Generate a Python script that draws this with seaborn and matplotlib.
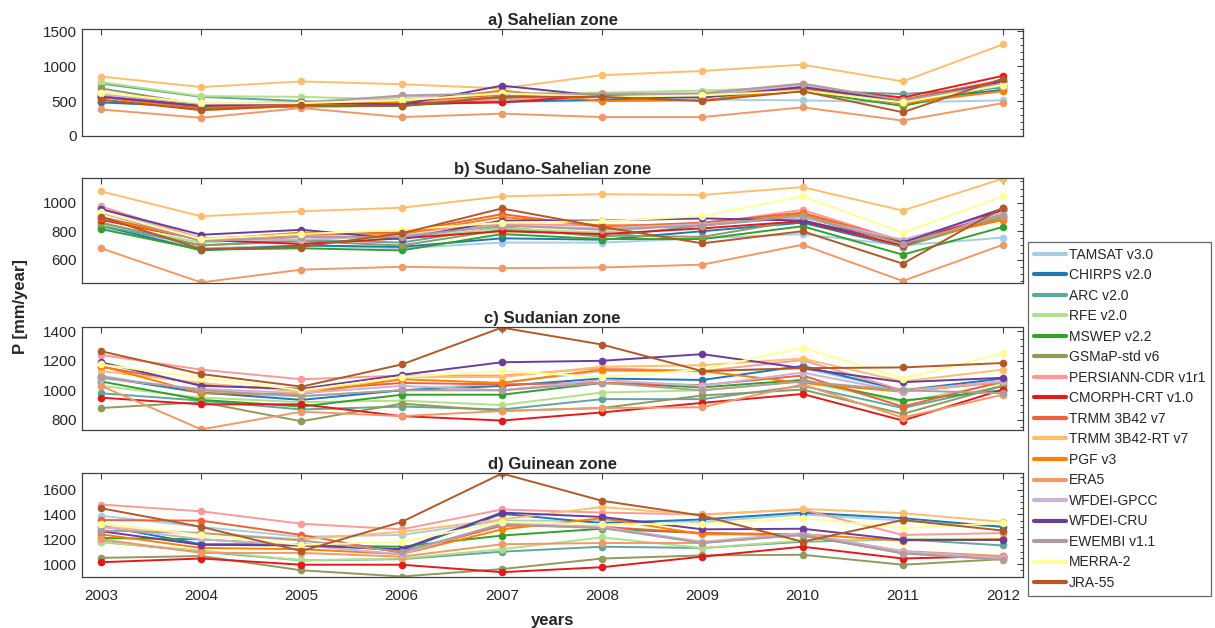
"""Annual precipitation per product over four climatic zones, 2003-2012."""

import matplotlib

matplotlib.use("Agg")
import matplotlib.pyplot as plt
import numpy as np
import pandas as pd
import seaborn as sns
from matplotlib.lines import Line2D
from matplotlib.ticker import MultipleLocator

YEARS = list(range(2003, 2013))

PRODUCTS = [
    "TAMSAT v3.0", "CHIRPS v2.0", "ARC v2.0", "RFE v2.0", "MSWEP v2.2",
    "GSMaP-std v6", "PERSIANN-CDR v1r1", "CMORPH-CRT v1.0", "TRMM 3B42 v7",
    "TRMM 3B42-RT v7", "PGF v3", "ERA5", "WFDEI-GPCC", "WFDEI-CRU",
    "EWEMBI v1.1", "MERRA-2", "JRA-55",
]

COLORS = [
    "#a6cee3", "#1f78b4", "#62a59c", "#b2df8a", "#33a02c",
    "#8f9b5c", "#fb9a99", "#e31a1c", "#f0603c",
    "#fdbf6f", "#ff7f00", "#ee9a68", "#cab2d6", "#6a3d9a",
    "#b09c9c", "#ffff99", "#b15928",
]

# rows follow PRODUCTS, columns follow YEARS  [mm/year]
SAHELIAN = [
    [490, 400, 430, 440, 490, 500, 520, 510, 480, 510],
    [480, 420, 440, 450, 490, 520, 560, 640, 500, 660],
    [750, 560, 500, 430, 560, 600, 600, 650, 600, 690],
    [770, 570, 560, 520, 600, 620, 650, 700, 520, 720],
    [560, 400, 420, 430, 530, 560, 560, 640, 430, 720],
    [680, 450, 470, 460, 560, 600, 580, 690, 460, 730],
    [590, 430, 450, 500, 520, 570, 600, 740, 500, 780],
    [590, 420, 460, 460, 480, 580, 600, 700, 550, 860],
    [560, 410, 440, 490, 590, 580, 590, 680, 520, 800],
    [850, 700, 780, 740, 680, 870, 930, 1020, 780, 1310],
    [560, 370, 430, 480, 650, 500, 510, 670, 470, 640],
    [380, 260, 400, 270, 320, 270, 270, 410, 220, 470],
    [590, 460, 490, 560, 600, 600, 590, 720, 500, 720],
    [560, 430, 480, 450, 720, 570, 550, 700, 500, 780],
    [620, 460, 470, 580, 610, 600, 610, 750, 510, 750],
    [620, 470, 470, 510, 610, 560, 580, 650, 480, 730],
    [520, 370, 440, 430, 560, 560, 500, 640, 340, 820],
]

SUDANO_SAHELIAN = [
    [830, 680, 700, 680, 720, 720, 750, 780, 700, 755],
    [840, 665, 700, 690, 750, 740, 800, 860, 690, 950],
    [840, 700, 740, 720, 830, 760, 840, 900, 720, 920],
    [850, 720, 760, 750, 820, 790, 860, 930, 710, 890],
    [815, 670, 680, 665, 780, 745, 745, 835, 635, 830],
    [860, 700, 730, 700, 810, 770, 760, 880, 690, 900],
    [975, 750, 770, 790, 850, 840, 850, 950, 730, 910],
    [880, 740, 710, 750, 800, 780, 820, 870, 700, 950],
    [900, 740, 780, 790, 920, 830, 860, 930, 730, 880],
    [1080, 905, 940, 965, 1045, 1060, 1055, 1110, 945, 1170],
    [890, 740, 790, 780, 900, 840, 840, 920, 725, 880],
    [680, 440, 530, 550, 540, 545, 565, 705, 450, 705],
    [960, 740, 740, 770, 840, 820, 850, 900, 740, 930],
    [955, 775, 810, 745, 875, 875, 890, 875, 720, 960],
    [930, 730, 760, 760, 840, 810, 840, 910, 710, 910],
    [935, 745, 780, 810, 860, 870, 905, 1045, 790, 1045],
    [900, 675, 690, 785, 960, 830, 715, 800, 572, 965],
]

SUDANIAN = [
    [1100, 980, 960, 1000, 1050, 1130, 1130, 1150, 1000, 1060],
    [1090, 985, 935, 1000, 1030, 1080, 1070, 1165, 1000, 1080],
    [980, 930, 870, 890, 870, 940, 940, 1030, 880, 1030],
    [1030, 950, 920, 930, 900, 985, 1000, 1060, 920, 1050],
    [1060, 935, 890, 970, 970, 1050, 1020, 1070, 930, 1000],
    [880, 920, 790, 910, 860, 880, 965, 1005, 840, 1030],
    [1240, 1140, 1075, 1100, 1100, 1150, 1130, 1205, 1000, 1060],
    [950, 905, 905, 825, 795, 850, 915, 975, 795, 1005],
    [1160, 1040, 1000, 1050, 1040, 1050, 1035, 1100, 890, 1060],
    [1130, 1050, 990, 1090, 1090, 1160, 1170, 1215, 1060, 1140],
    [1165, 980, 975, 1075, 1050, 1140, 1130, 1050, 990, 1055],
    [1030, 735, 855, 825, 860, 880, 885, 1040, 815, 970],
    [1080, 1010, 980, 1030, 1000, 1070, 1030, 1120, 990, 1060],
    [1190, 1030, 1010, 1105, 1190, 1200, 1245, 1150, 1055, 1085],
    [1090, 1000, 960, 1000, 1000, 1050, 1000, 1060, 1000, 980],
    [1175, 1085, 1000, 1090, 1130, 1090, 1140, 1290, 1080, 1250],
    [1265, 1110, 1025, 1175, 1425, 1310, 1130, 1150, 1155, 1185],
]

GUINEAN = [
    [1390, 1300, 1220, 1235, 1350, 1350, 1340, 1400, 1350, 1300],
    [1310, 1160, 1160, 1110, 1405, 1330, 1360, 1415, 1370, 1300],
    [1180, 1100, 1030, 1040, 1100, 1140, 1130, 1180, 1200, 1150],
    [1175, 1110, 1030, 1045, 1120, 1215, 1130, 1190, 1200, 1200],
    [1210, 1200, 1150, 1140, 1230, 1285, 1250, 1230, 1090, 1060],
    [1050, 1065, 950, 900, 960, 1045, 1070, 1075, 995, 1040],
    [1480, 1425, 1325, 1280, 1440, 1415, 1400, 1440, 1235, 1250],
    [1015, 1045, 995, 995, 935, 975, 1060, 1140, 1045, 1065],
    [1355, 1350, 1235, 1090, 1310, 1300, 1250, 1240, 1100, 1060],
    [1300, 1250, 1200, 1260, 1360, 1460, 1395, 1445, 1410, 1340],
    [1240, 1130, 1120, 1080, 1280, 1370, 1240, 1240, 1190, 1200],
    [1200, 1090, 1090, 1060, 1160, 1170, 1170, 1240, 1105, 1065],
    [1300, 1200, 1150, 1080, 1330, 1300, 1180, 1250, 1100, 1050],
    [1265, 1155, 1150, 1120, 1415, 1380, 1280, 1285, 1195, 1195],
    [1270, 1250, 1190, 1100, 1320, 1290, 1170, 1235, 1085, 1035],
    [1325, 1235, 1155, 1180, 1340, 1320, 1325, 1370, 1290, 1330],
    [1450, 1300, 1105, 1340, 1730, 1510, 1390, 1180, 1355, 1270],
]

ZONES = [
    ("a) Sahelian zone", SAHELIAN),
    ("b) Sudano-Sahelian zone", SUDANO_SAHELIAN),
    ("c) Sudanian zone", SUDANIAN),
    ("d) Guinean zone", GUINEAN),
]

sns.set_theme(style="white")
plt.rcParams["font.family"] = ["Liberation Sans", "DejaVu Sans"]
palette = dict(zip(PRODUCTS, COLORS))
edge = "#404040"

fig = plt.figure(figsize=(12.15, 6.28), dpi=100)
# axes boxes in figure pixels: (top, bottom)
boxes = [(29, 136), (178, 283), (327, 430), (473, 577)]
left, right, H = 82, 1023, 628

for i, ((title, values), (top, bot)) in enumerate(zip(ZONES, boxes)):
    ax = fig.add_axes([left / 1215, 1 - bot / H, (right - left) / 1215, (bot - top) / H])
    df = pd.DataFrame(values, index=PRODUCTS, columns=YEARS)
    df = df.reset_index(names="product").melt(
        id_vars="product", var_name="year", value_name="P"
    )
    sns.lineplot(
        data=df, x="year", y="P", hue="product", hue_order=PRODUCTS,
        palette=palette, marker="o", markersize=5.5, markeredgewidth=0,
        linewidth=1.4, legend=False, ax=ax,
    )
    ax.set_title(title, fontsize=12, fontweight="bold", pad=3)
    ax.set_xlim(2002.81, 2012.2)
    ax.set_xticks(YEARS)
    if i == 0:
        ax.set_ylim(0, 1530)
        ax.yaxis.set_major_locator(MultipleLocator(500))
        ax.yaxis.set_minor_locator(MultipleLocator(100))
    else:
        arr = np.asarray(values)
        ax.set_ylim(arr.min() - 4, arr.max() + 4)
        ax.yaxis.set_major_locator(MultipleLocator(200))
        ax.yaxis.set_minor_locator(MultipleLocator(50))
    ax.set_xlabel("")
    ax.set_ylabel("")
    if i < 3:
        ax.set_xticklabels([])
    else:
        ax.set_xlabel("years", fontsize=12, fontweight="bold", labelpad=7)
    ax.tick_params(axis="both", which="both", direction="in", top=True, right=True,
                   colors=edge, labelcolor="#262626", labelsize=11)
    ax.tick_params(which="major", length=4, width=0.8)
    ax.tick_params(which="minor", length=2.5, width=0.7)
    ax.tick_params(axis="x", which="major", pad=9)
    ax.tick_params(axis="y", which="major", pad=4)
    ax.tick_params(axis="x", which="minor", top=False, bottom=False)
    for s in ax.spines.values():
        s.set_color(edge)
        s.set_linewidth(0.9)

fig.text(21 / 1215, 1 - 307 / H, "P [mm/year]", rotation=90, fontsize=12,
         fontweight="bold", ha="center", va="center", color="#262626")

handles = [Line2D([], [], color=c, lw=3) for c in COLORS]
leg = fig.legend(
    handles, PRODUCTS, loc="upper left", bbox_to_anchor=(1028 / 1215, 1 - 242 / H),
    fontsize=10, frameon=True, fancybox=False, handlelength=2.3,
    handletextpad=0.25, labelspacing=0.47, borderpad=0.4, borderaxespad=0,
)
leg.get_frame().set_edgecolor(edge)
leg.get_frame().set_linewidth(0.9)

fig.savefig("out.png", dpi=100)
